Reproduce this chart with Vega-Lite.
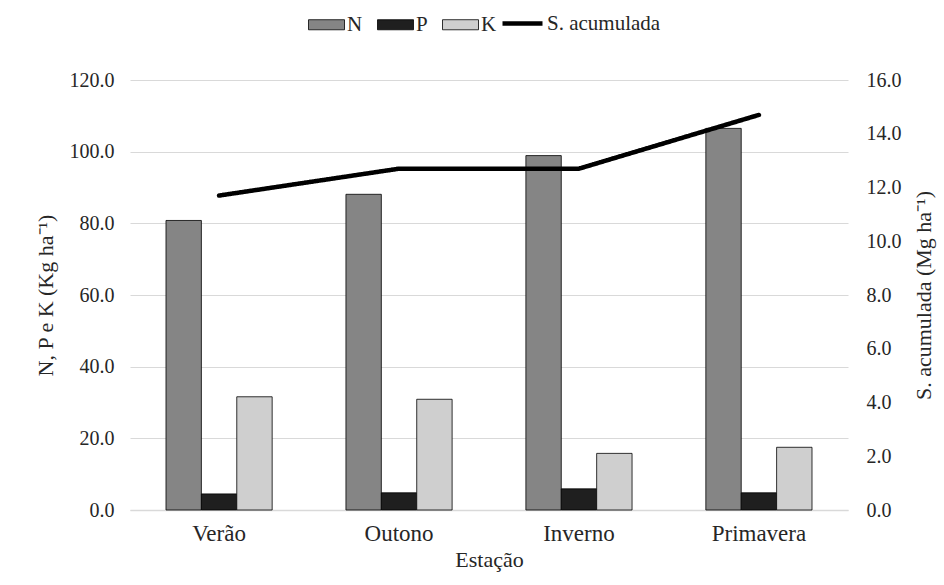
{
  "$schema": "https://vega.github.io/schema/vega-lite/v6.json",
  "width": 718,
  "height": 430,
  "autosize": {"type": "none"},
  "padding": {"left": 130, "top": 80, "right": 96, "bottom": 75},
  "background": "white",
  "config": {
    "font": "Liberation Serif",
    "view": {"stroke": null},
    "axis": {
      "labelFont": "Liberation Serif",
      "titleFont": "Liberation Serif",
      "labelFontSize": 20,
      "titleFontSize": 22,
      "titleFontWeight": "normal",
      "labelColor": "#262626",
      "titleColor": "#262626",
      "ticks": false,
      "domain": false
    },
    "legend": {"labelFont": "Liberation Serif", "labelFontSize": 21, "labelColor": "#262626"}
  },
  "datasets": {
    "nutrientes": [
      {"estacao": "Verão", "nutriente": "N", "valor": 80.8},
      {"estacao": "Verão", "nutriente": "P", "valor": 4.5},
      {"estacao": "Verão", "nutriente": "K", "valor": 31.6},
      {"estacao": "Outono", "nutriente": "N", "valor": 88.1},
      {"estacao": "Outono", "nutriente": "P", "valor": 4.8},
      {"estacao": "Outono", "nutriente": "K", "valor": 30.9},
      {"estacao": "Inverno", "nutriente": "N", "valor": 98.9},
      {"estacao": "Inverno", "nutriente": "P", "valor": 5.9},
      {"estacao": "Inverno", "nutriente": "K", "valor": 15.8},
      {"estacao": "Primavera", "nutriente": "N", "valor": 106.5},
      {"estacao": "Primavera", "nutriente": "P", "valor": 4.8},
      {"estacao": "Primavera", "nutriente": "K", "valor": 17.5}
    ],
    "serapilheira": [
      {"estacao": "Verão", "s_acumulada": 11.7},
      {"estacao": "Outono", "s_acumulada": 12.7},
      {"estacao": "Inverno", "s_acumulada": 12.7},
      {"estacao": "Primavera", "s_acumulada": 14.7}
    ]
  },
  "layer": [
    {
      "data": {"name": "nutrientes"},
      "mark": {"type": "bar", "stroke": "#000000", "strokeWidth": 0.8},
      "encoding": {
        "x": {
          "field": "estacao",
          "type": "nominal",
          "sort": ["Verão", "Outono", "Inverno", "Primavera"],
          "scale": {"paddingInner": 0.41, "paddingOuter": 0.2},
          "title": "Estação",
          "axis": {
            "labelAngle": 0,
            "labelFontSize": 23,
            "labelPadding": 12,
            "titlePadding": 4,
            "domain": true,
            "domainColor": "#d9d9d9",
            "domainWidth": 1.5
          }
        },
        "xOffset": {
          "field": "nutriente",
          "type": "nominal",
          "sort": ["N", "P", "K"],
          "scale": {"paddingInner": 0, "paddingOuter": 0}
        },
        "y": {
          "field": "valor",
          "type": "quantitative",
          "scale": {"domain": [0, 120], "nice": false},
          "title": "N, P e K (Kg ha⁻¹)",
          "axis": {
            "orient": "left",
            "values": [0, 20, 40, 60, 80, 100, 120],
            "format": ".1f",
            "grid": true,
            "gridColor": "#d9d9d9",
            "gridWidth": 1.2,
            "labelPadding": 16,
            "titlePadding": 12
          }
        },
        "color": {
          "field": "nutriente",
          "type": "nominal",
          "sort": ["N", "P", "K"],
          "scale": {
            "domain": ["N", "P", "K"],
            "range": ["#858585", "#1f1f1f", "#cfcfcf"]
          },
          "legend": {
            "title": null,
            "orient": "none",
            "direction": "horizontal",
            "legendX": 178,
            "legendY": -74,
            "symbolType": "M-1,-0.28H1V0.28H-1Z",
            "symbolSize": 1296,
            "symbolStrokeColor": "#000000",
            "symbolStrokeWidth": 0.8,
            "symbolOpacity": 1,
            "labelOffset": 2,
            "columnPadding": 12
          }
        }
      }
    },
    {
      "data": {"name": "serapilheira"},
      "mark": {"type": "line", "strokeWidth": 4.5, "strokeCap": "round", "color": "#000000"},
      "encoding": {
        "x": {
          "field": "estacao",
          "type": "nominal",
          "sort": ["Verão", "Outono", "Inverno", "Primavera"]
        },
        "y": {
          "field": "s_acumulada",
          "type": "quantitative",
          "scale": {"domain": [0, 16], "nice": false},
          "title": "S. acumulada (Mg ha⁻¹)",
          "axis": {
            "orient": "right",
            "values": [0, 2, 4, 6, 8, 10, 12, 14, 16],
            "format": ".1f",
            "grid": false,
            "labelPadding": 18,
            "titlePadding": 12,
            "titleAngle": 270,
            "titleBaseline": "top"
          }
        },
        "strokeDash": {
          "datum": "S. acumulada",
          "scale": {"domain": ["S. acumulada"], "range": [[1, 0]]},
          "legend": {
            "title": null,
            "orient": "none",
            "legendX": 370,
            "legendY": -79,
            "symbolType": "stroke",
            "symbolSize": 1600,
            "symbolStrokeColor": "#000000",
            "symbolStrokeWidth": 4.5,
            "symbolOpacity": 1,
            "labelOffset": 2
          }
        }
      }
    }
  ],
  "resolve": {"scale": {"y": "independent"}}
}
